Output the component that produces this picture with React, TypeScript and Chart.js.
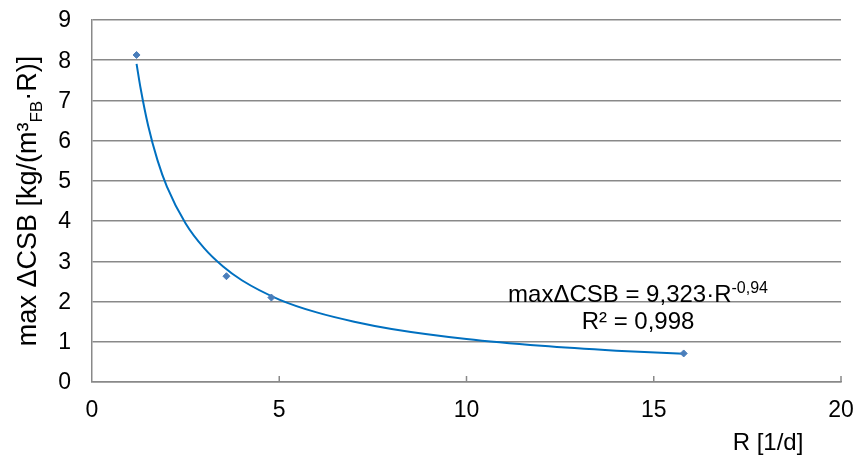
import React, { useEffect, useRef } from "react";
import { Chart, registerables } from "chart.js";

Chart.register(...registerables);

// Measured data points (R [1/d], max ΔCSB)
const pointsR = [1.19, 3.59, 4.79, 15.8];
const pointsCSB = [8.13, 2.63, 2.1, 0.71];

// Power trendline
const trendR = [1.19, 1.3, 1.5, 1.75, 2, 2.5, 3, 3.5, 4, 5, 6, 7, 8, 10, 12, 14, 15.8];
const trendCSB = [7.91, 7.29, 6.37, 5.51, 4.86, 3.94, 3.32, 2.87, 2.53, 2.05, 1.73, 1.5, 1.32, 1.07, 0.9, 0.78, 0.7];

const xTicks = [0, 5, 10, 15, 20];
const yTicks = [0, 1, 2, 3, 4, 5, 6, 7, 8, 9];

const yTitleMain1 = "max ΔCSB [kg/(m³";
const yTitleSub = "FB";
const yTitleMain2 = "·R)]";
const xTitle = "R [1/d]";
const eqMain = "maxΔCSB = 9,323·R";
const eqSup = "-0,94";
const eqR2 = "R² = 0,998";

const FONT = "'Liberation Sans', Arial, sans-serif";

const textPlugin = {
  id: "customText",
  afterDraw(chart: any) {
    const ctx = chart.ctx as CanvasRenderingContext2D;
    const xs = chart.scales.x;
    const ys = chart.scales.y;
    const area = chart.chartArea;
    ctx.save();
    // inward tick marks on x axis
    ctx.strokeStyle = "#898989";
    ctx.lineWidth = 1.5;
    xTicks.forEach((t) => {
      if (t === 0) return;
      const px = xs.getPixelForValue(t);
      ctx.beginPath();
      ctx.moveTo(px, area.bottom);
      ctx.lineTo(px, area.bottom - 6);
      ctx.stroke();
    });
    ctx.fillStyle = "#000";
    const tickFont = `23px ${FONT}`;
    // y tick labels
    ctx.font = tickFont;
    ctx.textAlign = "right";
    ctx.textBaseline = "middle";
    yTicks.forEach((t) => {
      ctx.fillText(String(t), 71, ys.getPixelForValue(t) + 1);
    });
    // x tick labels
    ctx.textAlign = "center";
    xTicks.forEach((t) => {
      ctx.fillText(String(t), xs.getPixelForValue(t), 411);
    });
    // y title
    const cy = (area.top + area.bottom) / 2;
    ctx.save();
    ctx.translate(29, cy);
    ctx.rotate(-Math.PI / 2);
    ctx.textBaseline = "middle";
    ctx.textAlign = "left";
    const ybig = `27px ${FONT}`;
    const ysmall = `17px ${FONT}`;
    ctx.font = ybig;
    const w1 = ctx.measureText(yTitleMain1).width;
    const w3 = ctx.measureText(yTitleMain2).width;
    ctx.font = ysmall;
    const w2 = ctx.measureText(yTitleSub).width;
    let x0 = -(w1 + w2 + w3) / 2;
    ctx.font = ybig;
    ctx.fillText(yTitleMain1, x0, 0);
    x0 += w1;
    ctx.font = ysmall;
    ctx.fillText(yTitleSub, x0, 8);
    x0 += w2;
    ctx.font = ybig;
    ctx.fillText(yTitleMain2, x0, 0);
    ctx.restore();
    // x title
    const big = `24px ${FONT}`;
    ctx.font = big;
    ctx.textAlign = "center";
    ctx.textBaseline = "alphabetic";
    ctx.fillText(xTitle, 768, 450);
    // equation
    ctx.font = big;
    const wm = ctx.measureText(eqMain).width;
    const supFont = `16px ${FONT}`;
    ctx.font = supFont;
    const ws = ctx.measureText(eqSup).width;
    const cx = 638;
    const ex = cx - (wm + ws) / 2;
    ctx.textAlign = "left";
    ctx.font = big;
    ctx.fillText(eqMain, ex, 302);
    ctx.font = supFont;
    ctx.fillText(eqSup, ex + wm, 293);
    ctx.font = big;
    ctx.textAlign = "center";
    ctx.fillText(eqR2, cx, 329);
    ctx.restore();
  },
};

export default function App() {
  const ref = useRef<HTMLCanvasElement>(null);
  useEffect(() => {
    document.body.style.margin = "0";
    const chart = new Chart(ref.current as HTMLCanvasElement, {
      type: "scatter",
      data: {
        datasets: [
          {
            label: "data",
            data: pointsR.map((x, i) => ({ x, y: pointsCSB[i] })),
            backgroundColor: "#4a7ebb",
            borderColor: "#4a7ebb",
            pointStyle: "rectRot",
            pointRadius: 3.5,
            showLine: false,
            order: 0,
          },
          {
            label: "trend",
            data: trendR.map((x, i) => ({ x, y: trendCSB[i] })),
            borderColor: "#0070c0",
            backgroundColor: "#0070c0",
            borderWidth: 2,
            pointRadius: 0,
            showLine: true,
            cubicInterpolationMode: "monotone",
            order: 1,
          },
        ],
      },
      options: {
        animation: false,
        responsive: false,
        devicePixelRatio: 1,
        layout: { padding: { top: 20, right: 13, left: 0, bottom: 0 } },
        plugins: { legend: { display: false }, tooltip: { enabled: false } },
        scales: {
          x: {
            type: "linear",
            min: 0,
            max: 20,
            afterBuildTicks: (s: any) => {
              s.ticks = xTicks.map((v) => ({ value: v }));
            },
            afterFit: (s: any) => {
              s.height = 75;
            },
            grid: { display: false, drawTicks: false },
            border: { display: true, color: "#898989", width: 1.5 },
            ticks: { display: false },
          },
          y: {
            type: "linear",
            min: 0,
            max: 9,
            afterBuildTicks: (s: any) => {
              s.ticks = yTicks.map((v) => ({ value: v }));
            },
            afterFit: (s: any) => {
              s.width = 92;
            },
            grid: { color: "#898989", lineWidth: 1.5, drawTicks: false },
            border: { display: true, color: "#898989", width: 1.5 },
            ticks: { display: false },
          },
        },
      },
      plugins: [textPlugin],
    } as any);
    return () => chart.destroy();
  }, []);
  return <canvas ref={ref} width={854} height={457} style={{ display: "block" }} />;
}
